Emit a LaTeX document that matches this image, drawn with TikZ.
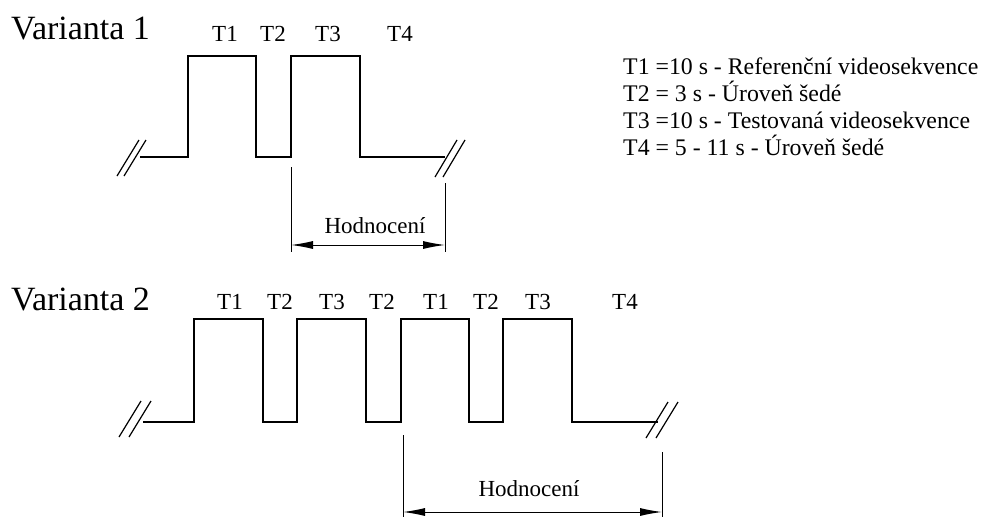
\documentclass[tikz,border=0pt]{standalone}
\usepackage{fontspec}
\setmainfont{Liberation Serif}
\usetikzlibrary{arrows.meta}
\tikzset{>={Latex[length=22pt,width=8pt]}}
\tikzset{
  signal/.style = {line width=1.5pt},
  cut/.style = {line width=1.2pt},
  dim/.style = {line width=1pt},
  lbl/.style = {anchor=base,inner sep=0pt,font=\fontsize{23}{27}\selectfont},
  title/.style = {anchor=base west,inner sep=0pt,font=\fontsize{34}{40}\selectfont},
  legend/.style = {anchor=base west,inner sep=0pt,font=\fontsize{23.8}{27}\selectfont}
}

\begin{document}
\begin{tikzpicture}[x=1pt,y=-1pt]
  \useasboundingbox (0,0) rectangle (987,517);

  % Varianta 1
  \node[title] (var1) at (11,39) {Varianta 1};
  \draw[signal] (140,157) -- (188,157) -- (188,56) -- (256,56) -- (256,157)
    -- (291,157) -- (291,56) -- (360,56) -- (360,157) -- (445,157);
  \draw[cut] (117,176) -- (139,140) (124,176) -- (146,140);
  \draw[cut] (435,177) -- (457,140) (443,177) -- (465,140);
  \foreach \x/\t [count=\i] in {225/T1,273/T2,328/T3,400/T4}
    \node[lbl] (a\i) at (\x,41) {\t};

  \coordinate (h1a) at (291,245);
  \coordinate (h1b) at (445,245);
  \draw[dim] (291,167) -- (291,252);
  \draw[dim] (445,183) -- (445,252);
  \draw[dim,<->] (h1a) -- (h1b);
  \node[lbl] (hod1) at (375,233) {Hodnocení};

  % legenda
  \node[legend] (leg1) at (623,74) {T1 =10 s - Referenční videosekvence};
  \node[legend] (leg2) at (623,101) {T2 = 3 s - Úroveň šedé};
  \node[legend] (leg3) at (623,128) {T3 =10 s - Testovaná videosekvence};
  \node[legend] (leg4) at (623,155) {T4 = 5 - 11 s - Úroveň šedé};

  % Varianta 2
  \node[title] (var2) at (11,310) {Varianta 2};
  \draw[signal] (143,422) -- (194,422) -- (194,319) -- (263,319) -- (263,422)
    -- (297,422) -- (297,319) -- (366,319) -- (366,422) -- (401,422)
    -- (401,319) -- (469,319) -- (469,422) -- (503,422) -- (503,319)
    -- (572,319) -- (572,422) -- (658,422);
  \draw[cut] (119,437) -- (141,401) (129,437) -- (151,401);
  \draw[cut] (646,438) -- (668,402) (656,438) -- (678,402);
  \foreach \x/\t [count=\i] in {230/T1,280/T2,332/T3,382/T2,436/T1,486/T2,538/T3,625/T4}
    \node[lbl] (b\i) at (\x,309) {\t};

  \coordinate (h2a) at (403,512);
  \coordinate (h2b) at (662,512);
  \draw[dim] (403,435) -- (403,517);
  \draw[dim] (662,452) -- (662,517);
  \draw[dim,<->] (h2a) -- (h2b);
  \node[lbl] (hod2) at (529,496) {Hodnocení};
\end{tikzpicture}
\end{document}
